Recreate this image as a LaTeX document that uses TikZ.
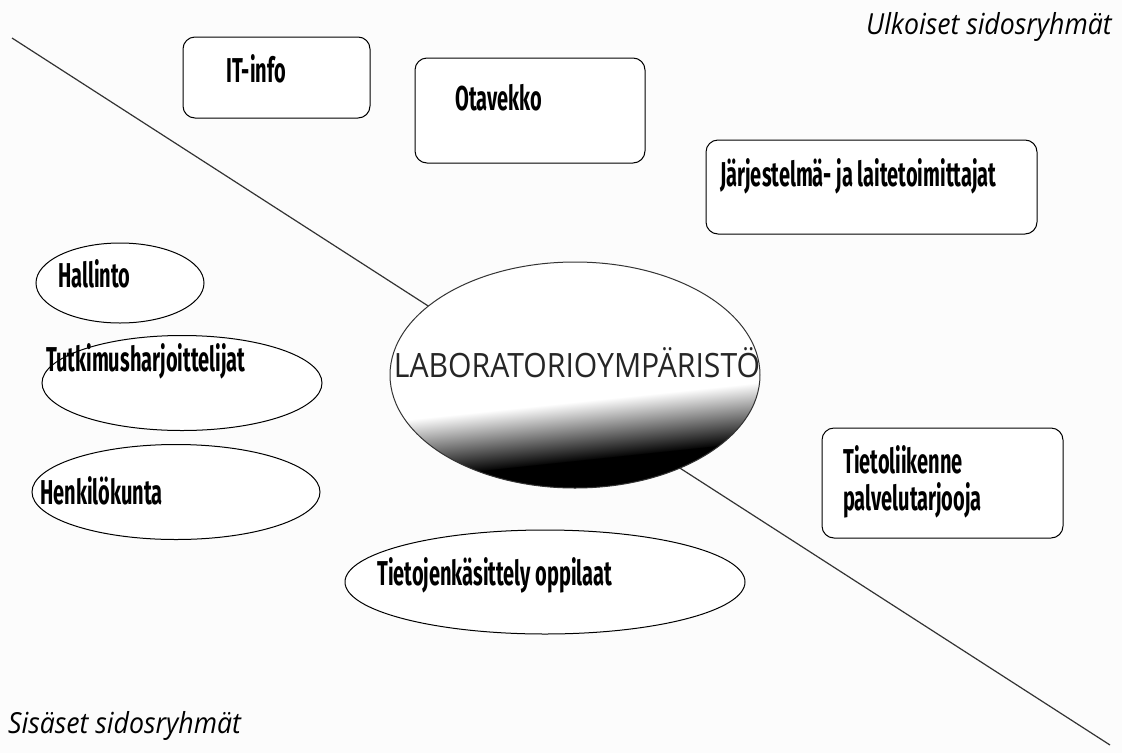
\documentclass[tikz,border=0pt]{standalone}
\usepackage{fontspec}
\usetikzlibrary{shapes.geometric}
\newfontfamily\condfont[FakeStretch=0.58]{Fira Sans}
\newfontfamily\slantfont[FakeStretch=0.92]{Open Sans}
\newfontfamily\centrefont[FakeStretch=0.9]{Open Sans}
\begin{document}
\begin{tikzpicture}[x=1pt,y=-1pt,
  box/.style={draw,rounded corners=12pt,line width=1pt,inner sep=0pt},
  oval/.style={draw,ellipse,line width=1pt,inner sep=0pt},
  txt/.style={anchor=base west,inner sep=0pt,font=\condfont\bfseries\fontsize{34.5}{37}\selectfont},
  side/.style={inner sep=0pt,font=\slantfont\itshape\fontsize{29}{32}\selectfont}]
\definecolor{paper}{HTML}{FCFCFC}
\definecolor{edge}{HTML}{333333}
\fill[paper] (0,0) rectangle (1122,753);
\useasboundingbox (0,0) rectangle (1122,753);
% dividing line
\coordinate (lineA) at (12,38);
\coordinate (lineB) at (1110,745);
\draw[edge,line width=1.2pt] (lineA) -- (lineB);
% group names
\node[side,anchor=base east] (ulko) at (1112,34) {Ulkoiset sidosryhmät};
\node[side,anchor=base west] (sisa) at (8,733) {Sisäset sidosryhmät};
% external groups
\node[box,fill=white,minimum width=187pt,minimum height=81pt] (itinfo) at (276.5,77.5) {};
\node[txt] (itinfoT) at (226,82) {IT-info};
\node[box,fill=white,minimum width=230pt,minimum height=105pt] (otavekko) at (530,110.5) {};
\node[txt] (otavekkoT) at (455,110) {Otavekko};
\node[box,fill=white,minimum width=331pt,minimum height=94pt] (laitteet) at (871.5,187) {};
\node[txt] (laitteetT) at (720,186) {Järjestelmä- ja laitetoimittajat};
\node[box,fill=white,minimum width=241pt,minimum height=110pt] (tieto) at (942.5,483) {};
\node[txt] (tietoT) at (843,473) {Tietoliikenne};
\node[txt] (tietoT2) at (843,510) {palvelutarjooja};
% internal groups
\node[oval,fill=white,minimum width=168pt,minimum height=80pt] (hallinto) at (120,283) {};
\node[txt] (hallintoT) at (58,287) {Hallinto};
\node[oval,fill=white,minimum width=280pt,minimum height=95pt] (tutkimus) at (182,383) {};
\node[txt] (tutkimusT) at (46,371) {Tutkimusharjoittelijat};
\node[oval,fill=white,minimum width=288pt,minimum height=95pt] (henkilo) at (176,492) {};
\node[txt] (henkiloT) at (40,504) {Henkilökunta};
\node[oval,fill=white,minimum width=400pt,minimum height=104pt] (oppilaat) at (545,582) {};
\node[txt] (oppilaatT) at (377,585) {Tietojenkäsittely oppilaat};
% centre
\begin{scope}
\clip (575,375) ellipse [x radius=185,y radius=113];
\fill[white] (380,250) rectangle (770,500);
\shade[top color=white,bottom color=black,transform canvas={rotate around={6:(575,435)}}]
  (330,402) rectangle (820,462);
\fill[black,transform canvas={rotate around={6:(575,435)}}] (330,461) rectangle (820,540);
\end{scope}
\node[oval,minimum width=370pt,minimum height=226pt,edge] (lab) at (575,375) {};
\node[anchor=base,inner sep=0pt,font=\centrefont\fontsize{33.5}{36}\selectfont,text=black!85] (labT) at (577,377) {LABORATORIOYMPÄRISTÖ};
\end{tikzpicture}
\end{document}
